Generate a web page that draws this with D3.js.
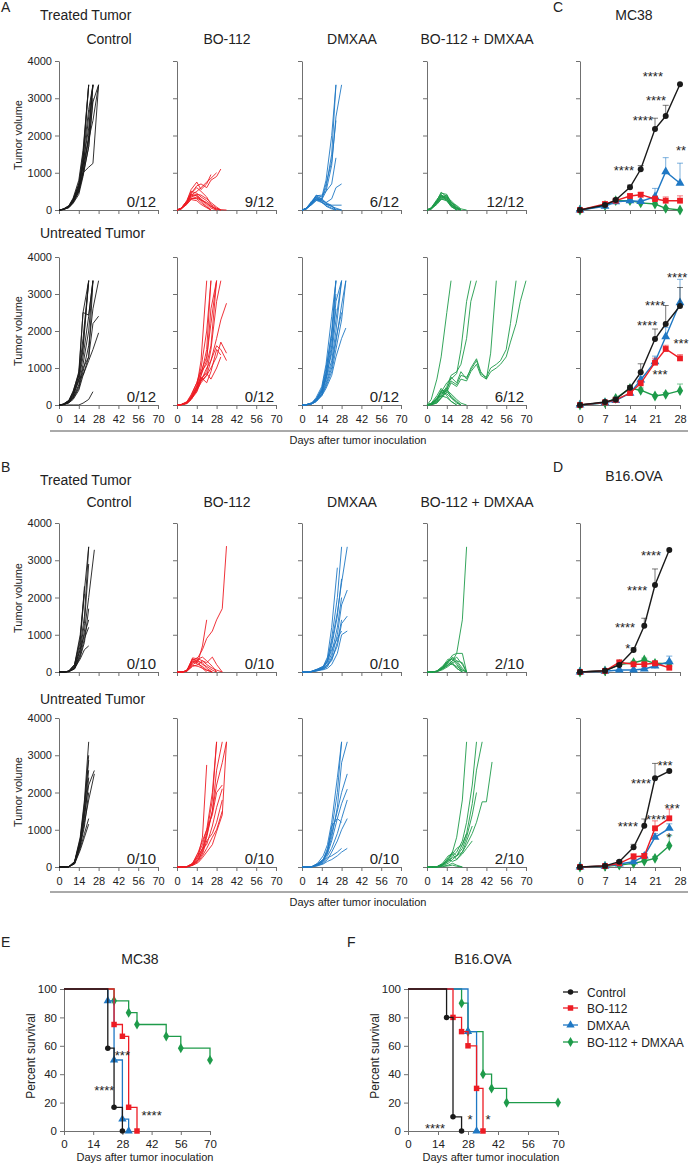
<!DOCTYPE html>
<html>
<head>
<meta charset="utf-8">
<script src="https://cdn.jsdelivr.net/npm/d3@7"></script>
<style>
  body { margin: 0; background: #fff; }
</style>
</head>
<body>
<div id="chart"></div>
<script>
const FONT = '"Liberation Sans", Arial, sans-serif';

// groups / colours
const groups = ["Control", "BO-112", "DMXAA", "BO-112 + DMXAA"];
const colors = ["#1a1a1a", "#ed1c24", "#1f78c4", "#1e9b4a"];
const symbols = [d3.symbolCircle, d3.symbolSquare, d3.symbolTriangle, d3.symbolDiamond];

// tick labels
const volTicks = [0, 1000, 2000, 3000, 4000];
const dayTicks = [0, 14, 28, 42, 56, 70];
const sumDayTicks = [0, 7, 14, 21, 28];
const pctTicks = [0, 20, 40, 60, 80, 100];

// measurement days for the individual curves
const mcDays = [0, 3, 7, 10, 14, 17, 21, 24, 28, 31, 35, 38, 42, 45, 49, 52, 56, 59, 63, 66, 70];
const b16Days = [0, 4, 7, 11, 15, 18, 21, 25, 28, 32, 35, 39, 42, 46, 49, 53, 56, 60, 63, 67, 70];

// ---- A: MC38, treated tumor, individual mice
const aTrCtrl = [
  [0, 20, 90, 250, 600, 1300, 3360],
  [0, 25, 110, 300, 700, 1500, 3360],
  [0, 15, 80, 220, 550, 1150, 2500, 3360],
  [0, 20, 100, 260, 620, 1250, 2200, 3360],
  [0, 10, 70, 200, 480, 1050, 1900, 3360],
  [0, 20, 95, 240, 560, 1000, 1150, 1250, 3360],
  [0, 15, 85, 230, 520, 1000, 2000, 3360],
  [0, 20, 100, 280, 650, 1400, 2700, 3360],
  [0, 12, 60, 180, 420, 900, 1700, 2900, 3360],
  [0, 18, 90, 260, 700, 1200, 1900, 2400, 3360],
  [0, 22, 120, 320, 800, 1600, 3360],
  [0, 14, 75, 210, 500, 950, 1700, 3000]
];
const aTrBo = [
  [0, 40, 200, 450, 650, 700, 600, 800, 900, 1100],
  [0, 50, 250, 550, 750, 550, 700, 950],
  [0, 30, 180, 400, 500, 600, 750, 850, 1000],
  [0, 40, 200, 350, 400, 300, 150, 50, 0],
  [0, 50, 220, 420, 380, 250, 100, 0],
  [0, 30, 150, 300, 350, 280, 200, 100, 20, 0],
  [0, 45, 250, 500, 450, 350, 250, 120, 0],
  [0, 35, 200, 320, 300, 200, 80, 0],
  [0, 40, 180, 380, 420, 400, 300, 200, 80, 0],
  [0, 30, 160, 280, 250, 150, 60, 0],
  [0, 50, 230, 450, 600, 500, 350, 150, 50, 0],
  [0, 40, 200, 300, 320, 260, 180, 90, 30, 10, 0]
];
const aTrDmx = [
  [0, 40, 200, 350, 300, 600, 1500, 3360],
  [0, 30, 180, 300, 280, 500, 1200, 2500, 3360],
  [0, 50, 220, 400, 350, 800, 2000, 3360],
  [0, 30, 150, 250, 300, 700, 1300, 2400],
  [0, 40, 200, 380, 400, 500, 700, 1400],
  [0, 35, 180, 300, 250, 200, 300, 600, 700],
  [0, 40, 200, 300, 250, 150, 100, 50, 0],
  [0, 30, 220, 380, 300, 200, 120, 0],
  [0, 45, 250, 350, 200, 150, 130, 130, 130],
  [0, 35, 160, 280, 220, 100, 30, 0],
  [0, 40, 210, 330, 280, 180, 90, 20, 0],
  [0, 25, 150, 260, 200, 120, 50, 0]
];
const aTrCombo = [
  [0, 50, 200, 400, 300, 150, 50, 0],
  [0, 40, 250, 480, 350, 120, 0],
  [0, 30, 180, 350, 400, 200, 80, 0],
  [0, 60, 280, 420, 250, 100, 0],
  [0, 35, 200, 300, 350, 250, 100, 0],
  [0, 45, 220, 380, 280, 150, 60, 0],
  [0, 50, 260, 450, 420, 180, 0],
  [0, 30, 150, 280, 300, 200, 120, 30, 0],
  [0, 40, 230, 360, 260, 90, 0],
  [0, 55, 240, 330, 380, 220, 50, 0],
  [0, 25, 170, 300, 240, 130, 40, 0],
  [0, 45, 210, 400, 330, 160, 20, 0]
];

// ---- A: MC38, untreated tumor
const aUnCtrl = [
  [0, 20, 100, 300, 700, 1500, 3360],
  [0, 15, 90, 280, 800, 2500, 3360],
  [0, 20, 120, 350, 900, 2500, 2430, 3360],
  [0, 10, 80, 250, 650, 1300, 2400, 3360],
  [0, 20, 110, 320, 800, 1600, 3360],
  [0, 15, 70, 200, 550, 1100, 2000, 3360],
  [0, 10, 60, 180, 450, 900, 1600, 2600, 3360],
  [0, 10, 60, 150, 400, 800, 1200, 1500, 1950],
  [0, 25, 130, 380, 850, 1800, 3360],
  [0, 15, 80, 230, 700, 800, 1300, 3360],
  [0, 10, 70, 200, 500, 1000, 1300, 2200, 2400],
  [0, 0, 0, 0, 0, 50, 150, 360]
];
const aUnBo = [
  [0, 10, 60, 200, 500, 1200, 3360],
  [0, 15, 80, 250, 600, 1000, 2000, 3360],
  [0, 10, 50, 180, 450, 800, 1200, 2600, 3360],
  [0, 5, 40, 150, 400, 700, 900, 1500, 2800, 3360],
  [0, 10, 50, 150, 350, 650, 800, 1200, 1800, 2300, 2750],
  [0, 10, 60, 200, 500, 750, 600, 900, 1500, 1350],
  [0, 5, 40, 150, 400, 600, 800, 1000, 1300, 1700, 1400],
  [0, 10, 60, 200, 450, 650, 1000, 1200, 1600, 1500, 1200],
  [0, 15, 90, 280, 600, 900, 1100, 1600, 3360],
  [0, 10, 50, 180, 400, 700, 850, 700, 1000, 1300],
  [0, 8, 50, 170, 420, 800, 1500, 3360],
  [0, 12, 70, 230, 520, 900, 1300, 2200, 3360]
];
const aUnDmx = [
  [0, 10, 50, 150, 400, 900, 2000, 3360],
  [0, 5, 40, 120, 350, 800, 1800, 3360],
  [0, 8, 60, 200, 500, 1100, 2400, 3360],
  [0, 5, 30, 100, 300, 700, 1500, 2800, 3360],
  [0, 10, 50, 150, 450, 1000, 1900, 3000],
  [0, 5, 40, 120, 380, 750, 1400, 2300, 3360],
  [0, 8, 45, 140, 350, 700, 1200, 2000, 3360],
  [0, 5, 35, 100, 300, 600, 1100, 1800, 2500],
  [0, 5, 30, 90, 250, 450, 800, 1300, 1800, 2080],
  [0, 8, 40, 110, 280, 550, 1000, 1700, 2700, 3360],
  [0, 10, 60, 160, 420, 850, 1600, 2600],
  [0, 6, 35, 100, 260, 500, 900, 1500, 2300, 3360]
];
const aUnCombo = [
  [0, 150, 700, 1300, 2500, 3360],
  [0, 20, 150, 350, 600, 700, 850, 1500, 2800, 3360],
  [0, 10, 100, 250, 500, 800, 900, 1100, 1800, 2800, 3360],
  [0, 10, 80, 200, 400, 750, 600, 900, 700, 1000, 1250, 900, 700, 1400, 3360],
  [0, 10, 60, 200, 450, 650, 550, 800, 750, 950, 1200, 850, 750, 1000, 1100, 1200, 1500, 2200, 3360],
  [0, 5, 50, 180, 350, 600, 500, 700, 650, 900, 1100, 800, 700, 900, 1000, 1100, 1300, 1700, 2200, 2800, 3360],
  [0, 40, 200, 350, 300, 200, 80, 0],
  [0, 30, 150, 400, 350, 250, 100, 0],
  [0, 50, 250, 450, 250, 100, 0],
  [0, 20, 120, 300, 400, 300, 150, 50, 0],
  [0, 30, 180, 250, 200, 100, 0],
  [0, 40, 150, 350, 450, 200, 50, 0]
];

// ---- B: B16.OVA, treated tumor
const bTrCtrl = [
  [0, 0, 20, 150, 700, 1500, 3360],
  [0, 0, 30, 200, 800, 2300],
  [0, 0, 15, 120, 600, 1300, 2900],
  [0, 0, 25, 180, 900, 2100],
  [0, 0, 20, 100, 500, 1100, 2000, 3280],
  [0, 0, 10, 80, 400, 800, 1700],
  [0, 0, 20, 150, 600, 1000, 1400],
  [0, 0, 15, 100, 350, 600, 700],
  [0, 0, 30, 200, 1000, 2200, 3360],
  [0, 0, 10, 90, 450, 900, 1200]
];
const bTrBo = [
  [0, 0, 50, 300, 400, 600, 900, 1100, 1400, 1700, 3380],
  [0, 0, 40, 350, 300, 700, 1400],
  [0, 0, 30, 380, 350, 300, 250, 400, 200, 0],
  [0, 0, 20, 250, 350, 400, 300, 150, 0],
  [0, 0, 50, 300, 200, 150, 50, 0],
  [0, 0, 30, 200, 280, 250, 100, 0],
  [0, 0, 40, 350, 250, 100, 0],
  [0, 0, 20, 150, 200, 300, 200, 100, 50, 0],
  [0, 0, 30, 250, 300, 200, 150, 50, 0],
  [0, 0, 25, 180, 150, 100, 50, 0]
];
const bTrDmx = [
  [0, 0, 10, 50, 100, 300, 900, 2000, 3360],
  [0, 0, 20, 80, 150, 400, 1200, 2800],
  [0, 0, 15, 60, 120, 350, 800, 1600, 2400, 3360],
  [0, 0, 10, 40, 100, 200, 500, 1200, 2000],
  [0, 0, 20, 70, 130, 250, 700, 1500, 2500],
  [0, 0, 10, 50, 80, 150, 400, 1000, 1800, 2200],
  [0, 0, 15, 60, 100, 200, 300, 800, 1400],
  [0, 0, 10, 40, 60, 100, 200, 500, 1000, 1100],
  [0, 0, 20, 80, 150, 300, 600, 900, 1100],
  [0, 0, 10, 30, 80, 150, 350, 700, 1300, 1500]
];
const bTrCombo = [
  [0, 0, 20, 100, 200, 300, 500, 1400, 3360],
  [0, 0, 30, 150, 300, 450, 500, 500, 0],
  [0, 0, 20, 120, 250, 400, 300, 100, 0],
  [0, 0, 10, 100, 300, 350, 200, 0],
  [0, 0, 25, 150, 350, 250, 100, 0],
  [0, 0, 15, 80, 200, 300, 400, 200, 0],
  [0, 0, 20, 100, 250, 200, 150, 50, 0],
  [0, 0, 10, 60, 150, 250, 300, 250, 0],
  [0, 0, 20, 120, 280, 380, 250, 50, 0],
  [0, 0, 15, 90, 180, 220, 100, 0]
];

// ---- B: B16.OVA, untreated tumor
const bUnCtrl = [
  [0, 0, 10, 150, 800, 1800, 3360],
  [0, 0, 5, 120, 700, 1600, 2870],
  [0, 0, 10, 100, 600, 1400, 2200, 2590],
  [0, 0, 8, 130, 750, 1700, 3000],
  [0, 0, 5, 90, 500, 900, 1300],
  [0, 0, 10, 80, 450, 800, 1150],
  [0, 0, 12, 140, 650, 1300, 2400],
  [0, 0, 6, 110, 550, 1100, 2000],
  [0, 0, 8, 100, 600, 1200, 1800, 2500],
  [0, 0, 10, 120, 700, 1500, 2600]
];
const bUnBo = [
  [0, 0, 10, 80, 300, 800, 2740],
  [0, 0, 5, 60, 250, 500, 900, 1800, 3360],
  [0, 0, 10, 70, 200, 400, 800, 1500, 2200, 2800, 3360],
  [0, 0, 8, 100, 350, 600, 1000, 1400, 2000, 2200],
  [0, 0, 5, 50, 150, 300, 500, 800, 1000, 1500],
  [0, 0, 10, 40, 120, 250, 400, 600, 950, 1400, 3360],
  [0, 0, 5, 60, 200, 450, 850, 1500, 2600, 3360],
  [0, 0, 8, 80, 300, 500, 600, 1100, 1600, 2100],
  [0, 0, 10, 100, 400, 700, 1000, 2000, 3360],
  [0, 0, 5, 50, 180, 350, 700, 900, 1200, 1800]
];
const bUnDmx = [
  [0, 0, 10, 80, 200, 500, 1000, 2000, 3360],
  [0, 0, 5, 60, 150, 400, 800, 1600, 2800, 3360],
  [0, 0, 10, 100, 300, 600, 1200, 2400, 3360],
  [0, 0, 8, 70, 200, 350, 700, 1300, 1700, 2090],
  [0, 0, 5, 50, 150, 300, 500, 900, 1300, 1800],
  [0, 0, 10, 60, 180, 400, 1100, 1300, 1200],
  [0, 0, 5, 40, 100, 200, 400, 700, 1000, 1300],
  [0, 0, 8, 50, 120, 250, 300, 400, 500],
  [0, 0, 5, 30, 80, 150, 200, 300, 400, 500],
  [0, 0, 10, 90, 200, 450, 900, 1500, 2000, 2500]
];
const bUnCombo = [
  [0, 0, 5, 80, 200, 400, 800, 1800, 3360],
  [0, 0, 5, 60, 150, 300, 400, 700, 1200, 2200, 3360],
  [0, 0, 10, 50, 200, 350, 500, 600, 900, 1700, 2600, 3360],
  [0, 0, 5, 40, 100, 200, 300, 400, 600, 900, 1200, 1750, 1750, 2820],
  [0, 0, 8, 60, 250, 400, 300, 500, 800, 1400, 2000],
  [0, 0, 5, 100, 300, 350, 200, 400, 700, 1100],
  [0, 0, 5, 50, 150, 250, 300, 600, 900],
  [0, 0, 10, 80, 200, 150, 200, 350, 500, 700],
  [0, 0, 0, 20, 50, 100, 50, 0],
  [0, 0, 0, 10, 30, 50, 20, 0]
];

const aTrFrac = ["0/12", "9/12", "6/12", "12/12"];
const aUnFrac = ["0/12", "0/12", "0/12", "6/12"];
const bTrFrac = ["0/10", "0/10", "0/10", "2/10"];
const bUnFrac = ["0/10", "0/10", "0/10", "2/10"];

// ---- C / D: group means (+ SEM), order = groups
const cDays = [0, 7, 10, 14, 17, 21, 24, 28];
const cTopMeans = [
  [0, 134, 268, 609, 1092, 2174, 2523, 3374],
  [0, 161, 250, 376, 411, 295, 250, 250],
  [0, 100, 220, 250, 230, 360, 1030, 720],
  [0, 120, 250, 250, 190, 161, 45, 0]
];
const cTopErrs = [
  [0, 20, 30, 60, 100, 290, 287, 0],
  [0, 20, 30, 50, 60, 80, 100, 130],
  [0, 20, 30, 40, 40, 220, 375, 537],
  [0, 20, 30, 40, 30, 30, 15, 0]
];
const cBotMeans = [
  [0, 80, 150, 468, 884, 1784, 2189, 2676],
  [0, 70, 140, 324, 586, 1144, 1514, 1261],
  [0, 60, 120, 316, 676, 1171, 1846, 2766],
  [0, 60, 180, 450, 400, 243, 289, 387]
];
const cBotErrs = [
  [0, 15, 30, 60, 230, 270, 500, 500],
  [0, 15, 30, 50, 80, 120, 100, 100],
  [0, 15, 25, 50, 100, 150, 250, 630],
  [0, 10, 30, 40, 60, 40, 50, 180]
];
const dDays = [0, 7, 11, 15, 18, 21, 25];
const dTopMeans = [
  [0, 35, 188, 591, 1243, 2336, 3275],
  [0, 30, 260, 207, 207, 233, 115],
  [0, 20, 54, 54, 80, 161, 277],
  [0, 30, 200, 250, 322, 233, 225]
];
const dTopErrs = [
  [0, 10, 30, 60, 200, 430, 0],
  [0, 10, 40, 40, 40, 60, 40],
  [0, 5, 15, 15, 20, 60, 150],
  [0, 10, 30, 40, 50, 50, 60]
];
const dBotMeans = [
  [0, 30, 142, 529, 1109, 2381, 2577],
  [0, 25, 100, 277, 295, 1039, 1307],
  [0, 20, 80, 142, 295, 797, 1039],
  [0, 20, 50, 99, 161, 233, 572]
];
const dBotErrs = [
  [0, 10, 30, 80, 180, 400, 0],
  [0, 5, 20, 80, 60, 200, 250],
  [0, 5, 20, 40, 60, 100, 120],
  [0, 5, 10, 20, 30, 50, 270]
];
// significance marks: [day, volume, label]
const cTopStars = [[20.4, 3544, "****"], [21.3, 2926, "****"], [17.6, 2389, "****"], [12.3, 1047, "****"], [28.3, 1584, "**"]];
const cBotStars = [[27.2, 3432, "****"], [21, 2649, "****"], [18.8, 2135, "****"], [28.3, 1622, "***"], [22.4, 811, "***"]];
const dTopStars = [[19.9, 3114, "****"], [16, 2174, "****"], [12.6, 1181, "****"], [13.4, 617, "*"]];
const dBotStars = [[23.8, 2711, "***"], [17.1, 2228, "****"], [25.8, 1557, "***"], [13.4, 1074, "****"], [21.3, 1262, "****"], [24.9, 778, "*"]];

// ---- E / F: survival
const eTimes = [[0, 21, 24, 28], [0, 24, 28, 31, 35], [0, 21, 24, 28, 31], [0, 24, 31, 35, 49, 56, 70]];
const eSurv = [[100, 58.3, 16.7, 0], [100, 75, 66.7, 16.7, 0], [100, 91.7, 50, 8.3, 0], [100, 91.7, 83.3, 75, 66.7, 58.3, 50]];
const fTimes = [[0, 18, 21, 25], [0, 21, 25, 28, 32, 35], [0, 28, 32], [0, 25, 28, 35, 39, 46, 70]];
const fSurv = [[100, 80, 10, 0], [100, 80, 70, 60, 30, 0], [100, 70, 0], [100, 90, 70, 40, 30, 20, 20]];
const eStars = [[28, 52.8, "***"], [19.3, 27.5, "****"], [42, 9.9, "****"]];
const fStars = [[12.6, 1.4, "****"], [28.9, 7.7, "*"], [37.3, 7.7, "*"]];

// ---------------------------------------------------------------
const svg = d3.select("#chart").append("svg")
  .attr("width", 689).attr("height", 1164)
  .style("font-family", FONT);

const colX = [59, 177, 302, 427];
const rowA1 = {top: 61, bottom: 210}, rowA2 = {top: 257, bottom: 405};
const rowB1 = {top: 523, bottom: 672}, rowB2 = {top: 718, bottom: 867};

function label(x, y, txt, size, anchor) {
  return svg.append("text").attr("x", x).attr("y", y)
    .attr("font-size", size).attr("fill", "#222")
    .attr("text-anchor", anchor || "start").text(txt);
}

function styleAxis(g, size) {
  g.attr("font-family", FONT).attr("font-size", size || 11);
  g.selectAll("path, line").attr("stroke", "#707070");
  g.selectAll("text").attr("fill", "#222");
}

function yTitle(x, y, txt, size) {
  svg.append("text").attr("transform", `translate(${x},${y}) rotate(-90)`)
    .attr("text-anchor", "middle").attr("font-size", size).attr("fill", "#222").text(txt);
}

// asterisks: grayscale-rendered, baseline shifted so the glyphs sit on the point
function drawStars(x, y, stars) {
  svg.append("g").attr("opacity", 0.99).selectAll("text").data(stars).join("text")
    .attr("x", d => x(d[0])).attr("y", d => y(d[1])).attr("dy", "0.27em")
    .attr("text-anchor", "middle").attr("font-size", 13).attr("fill", "#222")
    .text(d => d[2]);
}

function spaghetti(col, row, days, lines, gi, frac, yLab, xLab) {
  const x0 = colX[col];
  const x = d3.scaleLinear().domain([0, 70]).range([x0, x0 + 99]);
  const y = d3.scaleLinear().domain([0, 4000]).range([row.bottom, row.top]);
  svg.append("g").attr("transform", `translate(${x0},0)`)
    .call(d3.axisLeft(y).tickValues(volTicks).tickSize(4).tickSizeOuter(0).tickPadding(3)
      .tickFormat(yLab ? d3.format("d") : ""))
    .call(styleAxis);
  svg.append("g").attr("transform", `translate(0,${row.bottom})`)
    .call(d3.axisBottom(x).tickValues(dayTicks).tickSize(4).tickSizeOuter(0).tickPadding(6)
      .tickFormat(xLab ? d3.format("d") : ""))
    .call(styleAxis);
  const line = d3.line().x((d, i) => x(days[i])).y(d => y(d));
  svg.append("g").selectAll("path").data(lines).join("path")
    .attr("d", line).attr("fill", "none")
    .attr("stroke", colors[gi]).attr("stroke-width", 0.9);
  label(x0 + 97, row.bottom - 3, frac, 15, "end");
}

function summary(row, days, means, errs, stars, xLab) {
  const x = d3.scaleLinear().domain([0, 28]).range([580, 680]);
  const y = d3.scaleLinear().domain([0, 4000]).range([row.bottom, row.top]);
  svg.append("g").attr("transform", "translate(580,0)")
    .call(d3.axisLeft(y).tickValues(volTicks).tickSize(4).tickSizeOuter(0).tickFormat(""))
    .call(styleAxis);
  svg.append("g").attr("transform", `translate(0,${row.bottom})`)
    .call(d3.axisBottom(x).tickValues(sumDayTicks).tickSize(4).tickSizeOuter(0).tickPadding(6)
      .tickFormat(xLab ? d3.format("d") : ""))
    .call(styleAxis);
  [3, 2, 1, 0].forEach(gi => {
    const m = means[gi], e = errs[gi];
    svg.append("g").selectAll("path").data(days).join("path")
      .attr("d", (d, i) => e[i] > 0
        ? `M${x(d)},${y(m[i])}V${y(m[i] + e[i])}M${x(d) - 3},${y(m[i] + e[i])}H${x(d) + 3}` : null)
      .attr("stroke", colors[gi]).attr("stroke-opacity", 0.65).attr("stroke-width", 0.9).attr("fill", "none");
    svg.append("path").datum(m)
      .attr("d", d3.line().x((d, i) => x(days[i])).y(d => y(d)))
      .attr("fill", "none").attr("stroke", colors[gi]).attr("stroke-width", 1.4);
    svg.append("g").selectAll("path").data(m).join("path")
      .attr("transform", (d, i) => `translate(${x(days[i])},${y(d)})`)
      .attr("d", d3.symbol(symbols[gi], gi === 0 ? 28 : 34))
      .attr("fill", colors[gi]);
  });
  drawStars(x, y, stars);
}

function survival(x0, x1, times, surv, stars) {
  const x = d3.scaleLinear().domain([0, 70]).range([x0, x1]);
  const y = d3.scaleLinear().domain([0, 100]).range([1131, 989]);
  svg.append("g").attr("transform", `translate(${x0},0)`)
    .call(d3.axisLeft(y).tickValues(pctTicks).tickSize(4).tickSizeOuter(0).tickPadding(3))
    .call(g => styleAxis(g, 11.5));
  svg.append("g").attr("transform", "translate(0,1131)")
    .call(d3.axisBottom(x).tickValues(dayTicks).tickSize(4).tickSizeOuter(0).tickPadding(5))
    .call(g => styleAxis(g, 11.5));
  [3, 2, 1, 0].forEach(gi => {
    const pts = times[gi].map((t, i) => [t, surv[gi][i]]);
    svg.append("path").datum(pts)
      .attr("d", d3.line().curve(d3.curveStepAfter).x(d => x(d[0])).y(d => y(d[1])))
      .attr("fill", "none").attr("stroke", colors[gi]).attr("stroke-width", 1.3);
    svg.append("g").selectAll("path").data(pts.slice(1)).join("path")
      .attr("transform", d => `translate(${x(d[0])},${y(d[1])})`)
      .attr("d", d3.symbol(symbols[gi], gi === 0 ? 24 : 30))
      .attr("fill", colors[gi]);
  });
  drawStars(x, y, stars);
  yTitle(x0 - 29, 1056, "Percent survival", 12);
  label((x0 + x1) / 2 + 8, 1161, "Days after tumor inoculation", 11, "middle");
}

// ---- panel A + C
label(1, 12, "A", 14);
label(40, 20, "Treated Tumor", 14);
label(40, 238, "Untreated Tumor", 14);
groups.forEach((g, i) => label(colX[i] + 50, 44, g, 14, "middle"));
label(553, 12, "C", 14);
label(634, 20, "MC38", 14, "middle");

const aTr = [aTrCtrl, aTrBo, aTrDmx, aTrCombo];
const aUn = [aUnCtrl, aUnBo, aUnDmx, aUnCombo];
aTr.forEach((lines, i) => spaghetti(i, rowA1, mcDays, lines, i, aTrFrac[i], i === 0, false));
aUn.forEach((lines, i) => spaghetti(i, rowA2, mcDays, lines, i, aUnFrac[i], i === 0, true));
summary(rowA1, cDays, cTopMeans, cTopErrs, cTopStars, false);
summary(rowA2, cDays, cBotMeans, cBotErrs, cBotStars, true);
yTitle(22, 135, "Tumor volume", 11);
yTitle(22, 331, "Tumor volume", 11);
svg.append("line").attr("x1", 50).attr("x2", 688).attr("y1", 431).attr("y2", 431)
  .attr("stroke", "#555").attr("stroke-width", 1);
label(358, 444, "Days after tumor inoculation", 11, "middle");

// ---- panel B + D
label(1, 472, "B", 14);
label(40, 485, "Treated Tumor", 14);
label(40, 704, "Untreated Tumor", 14);
groups.forEach((g, i) => label(colX[i] + 50, 507, g, 14, "middle"));
label(553, 472, "D", 14);
label(634, 481, "B16.OVA", 14, "middle");

const bTr = [bTrCtrl, bTrBo, bTrDmx, bTrCombo];
const bUn = [bUnCtrl, bUnBo, bUnDmx, bUnCombo];
bTr.forEach((lines, i) => spaghetti(i, rowB1, b16Days, lines, i, bTrFrac[i], i === 0, false));
bUn.forEach((lines, i) => spaghetti(i, rowB2, b16Days, lines, i, bUnFrac[i], i === 0, true));
summary(rowB1, dDays, dTopMeans, dTopErrs, dTopStars, false);
summary(rowB2, dDays, dBotMeans, dBotErrs, dBotStars, true);
yTitle(22, 598, "Tumor volume", 11);
yTitle(22, 792, "Tumor volume", 11);
svg.append("line").attr("x1", 50).attr("x2", 688).attr("y1", 892).attr("y2", 892)
  .attr("stroke", "#555").attr("stroke-width", 1);
label(358, 906, "Days after tumor inoculation", 11, "middle");

// ---- panel E + F
label(1, 947, "E", 14);
label(140, 964, "MC38", 14, "middle");
survival(64, 210, eTimes, eSurv, eStars);
label(347, 947, "F", 14);
label(483, 964, "B16.OVA", 14, "middle");
survival(408, 558, fTimes, fSurv, fStars);

// legend
const legY = [992, 1008, 1025, 1042];
groups.forEach((g, i) => {
  svg.append("line").attr("x1", 563).attr("x2", 578).attr("y1", legY[i]).attr("y2", legY[i])
    .attr("stroke", colors[i]).attr("stroke-width", 1.3);
  svg.append("path").attr("transform", `translate(570.5,${legY[i]})`)
    .attr("d", d3.symbol(symbols[i], i === 0 ? 24 : 30)).attr("fill", colors[i]);
  label(587, legY[i] + 4.5, g, 12);
});
</script>
</body>
</html>
